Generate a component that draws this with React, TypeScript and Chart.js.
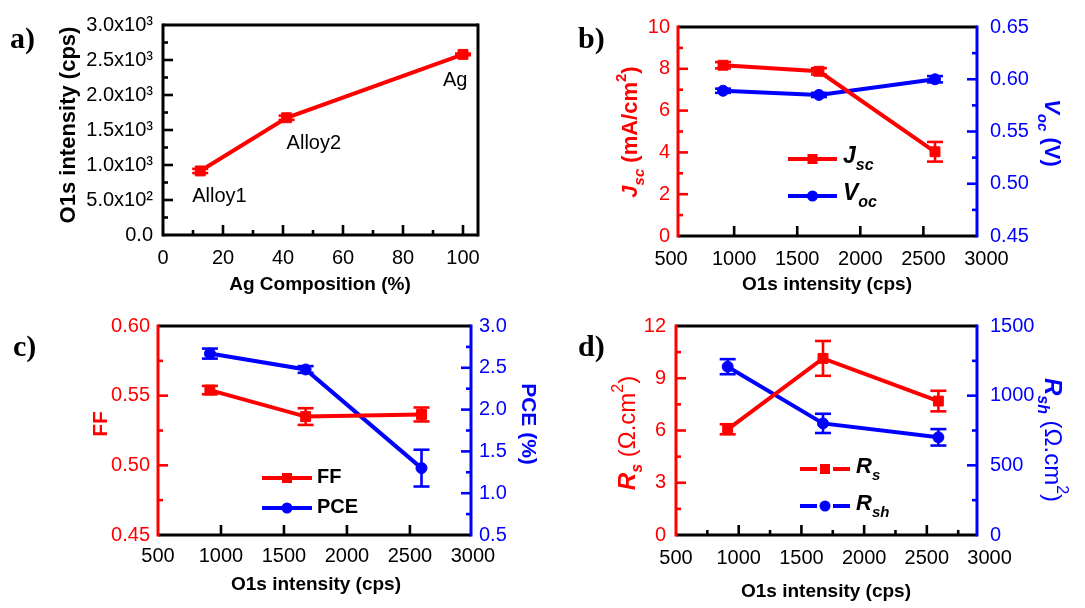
import React, { useEffect, useRef } from "react";
import { Chart, registerables } from "chart.js";

Chart.register(...registerables);

const RED = "#ff0000";
const BLUE = "#0000ff";
const BLACK = "#000000";
const SANS = "'Liberation Sans', Arial, Helvetica, sans-serif";
const SERIF = "'Liberation Serif', 'Times New Roman', serif";

// ---------------- data ----------------
// panel a
const agComposition = [12.4, 41.2, 100];
const o1sByComposition = [915, 1675, 2580];
const o1sByCompositionErr = [30, 30, 12];
const sampleNames = ["Alloy1", "Alloy2", "Ag"];

// panels b-d (x = O1s intensity)
const o1sIntensity = [912, 1672, 2592];
const jsc = [8.17, 7.88, 4.03];
const jscErr = [0.15, 0.15, 0.47];
const voc = [0.589, 0.585, 0.6];
const vocErr = [0.002, 0.002, 0.003];
const ff = [0.554, 0.535, 0.5365];
const ffErr = [0.003, 0.006, 0.005];
const pce = [2.67, 2.48, 1.3];
const pceErr = [0.06, 0.04, 0.22];
const rs = [6.07, 10.14, 7.69];
const rsErr = [0.29, 1.0, 0.59];
const rsh = [1208, 801, 701];
const rshErr = [54, 69, 59];

// tick values
const compTicks = [0, 20, 40, 60, 80, 100];
const o1sAxisTicks = [0, 500, 1000, 1500, 2000, 2500, 3000];
const o1sTicks = [500, 1000, 1500, 2000, 2500, 3000];
const jscTicks = [0, 2, 4, 6, 8, 10];
const vocTicks = [0.45, 0.5, 0.55, 0.6, 0.65];
const ffTicks = [0.45, 0.5, 0.55, 0.6];
const pceTicks = [0.5, 1, 1.5, 2, 2.5, 3];
const rsTicks = [0, 3, 6, 9, 12];
const rshTicks = [0, 500, 1000, 1500];

// ---------------- types & helpers ----------------
type Run = { t: string; it?: boolean; sub?: boolean; sup?: boolean; bold?: boolean };
type TextItem = {
  runs: Run[];
  x: number;
  y: number;
  size: number;
  bold?: boolean;
  color: string;
  rot?: number;
  align?: "left" | "center";
  family?: string;
  baseline?: CanvasTextBaseline;
};
type AxisSpec = {
  id: string;
  side: "bottom" | "left" | "right";
  min: number;
  max: number;
  ticks: number[];
  fmt: (v: number) => string;
  color: string;
  minor: boolean;
  labelPad: number;
};
type SeriesSpec = {
  xs: number[];
  ys: number[];
  errs: number[];
  color: string;
  marker: "rect" | "circle";
  axis: string;
};
type LegendSpec = {
  x1: number;
  x2: number;
  y: number;
  color: string;
  marker: "rect" | "circle";
  gap: boolean;
  text: TextItem;
};
type AnnotSpec = { runs: Run[]; series: number; index: number; dx: number; dy: number };
type PanelSpec = {
  ox: number;
  oy: number;
  w: number;
  h: number;
  area: { l: number; r: number; t: number; b: number };
  frame: { top: string; bottom: string; left: string; right: string };
  axes: AxisSpec[];
  series: SeriesSpec[];
  texts: TextItem[];
  legend: LegendSpec[];
  annots: AnnotSpec[];
};

const SUP: Record<number, string> = { 2: "\u00b2", 3: "\u00b3" };
const sciFmt = (v: number) => {
  if (v === 0) return "0.0";
  const e = Math.floor(Math.log10(v) + 1e-9);
  return `${(v / Math.pow(10, e)).toFixed(1)}x10${SUP[e] || e}`;
};
const intFmt = (v: number) => String(Math.round(v * 1000) / 1000);

const TICK_SIZE = 20;

function runFont(r: Run, it: TextItem) {
  const small = r.sub || r.sup;
  const sz = small ? Math.round(it.size * 0.68) : it.size;
  const b = r.bold !== undefined ? r.bold : it.bold;
  return `${r.it ? "italic " : ""}${b ? "bold " : ""}${sz}px ${it.family || SANS}`;
}

function drawRich(ctx: CanvasRenderingContext2D, item: TextItem, ox: number, oy: number) {
  ctx.save();
  ctx.translate(item.x - ox, item.y - oy);
  if (item.rot) ctx.rotate(item.rot);
  ctx.fillStyle = item.color;
  ctx.textBaseline = item.baseline || "middle";
  ctx.textAlign = "left";
  const widths = item.runs.map((r) => {
    ctx.font = runFont(r, item);
    return ctx.measureText(r.t).width;
  });
  const total = widths.reduce((a, b) => a + b, 0);
  let x = item.align === "left" ? 0 : -total / 2;
  item.runs.forEach((r, i) => {
    ctx.font = runFont(r, item);
    const dy = r.sub ? item.size * 0.38 : r.sup ? -item.size * 0.4 : 0;
    ctx.fillText(r.t, x, dy);
    x += widths[i];
  });
  ctx.restore();
}

function drawMarker(ctx: CanvasRenderingContext2D, kind: "rect" | "circle", x: number, y: number, color: string) {
  ctx.fillStyle = color;
  if (kind === "rect") {
    ctx.fillRect(x - 5, y - 5, 10, 10);
  } else {
    ctx.beginPath();
    ctx.arc(x, y, 5.5, 0, Math.PI * 2);
    ctx.fill();
  }
}

function seg(ctx: CanvasRenderingContext2D, x1: number, y1: number, x2: number, y2: number) {
  ctx.beginPath();
  ctx.moveTo(x1, y1);
  ctx.lineTo(x2, y2);
  ctx.stroke();
}

function makePlugin(spec: PanelSpec) {
  return {
    id: "panelDecor",
    beforeDatasetsDraw(chart: any) {
      const ctx: CanvasRenderingContext2D = chart.ctx;
      const a = chart.chartArea;
      ctx.save();
      ctx.lineCap = "butt";
      // tick marks (inward)
      for (const ax of spec.axes) {
        const sc = chart.scales[ax.id];
        const lo = Math.min(sc.min, sc.max);
        const hi = Math.max(sc.min, sc.max);
        const eps = (hi - lo) * 1e-3;
        const inside = (v: number) => v > lo + eps && v < hi - eps;
        const marks: { v: number; len: number }[] = [];
        ax.ticks.forEach((v, i) => {
          if (inside(v)) marks.push({ v, len: 10 });
          if (ax.minor && i < ax.ticks.length - 1) {
            const m = (v + ax.ticks[i + 1]) / 2;
            if (inside(m)) marks.push({ v: m, len: 5 });
          }
        });
        ctx.strokeStyle = ax.color;
        ctx.lineWidth = 2.6;
        for (const mk of marks) {
          const p = sc.getPixelForValue(mk.v);
          if (ax.side === "bottom") seg(ctx, p, a.bottom, p, a.bottom - mk.len);
          else if (ax.side === "left") seg(ctx, a.left, p, a.left + mk.len, p);
          else seg(ctx, a.right, p, a.right - mk.len, p);
        }
      }
      // frame
      ctx.lineWidth = 3;
      ctx.strokeStyle = spec.frame.top;
      seg(ctx, a.left, a.top, a.right, a.top);
      ctx.strokeStyle = spec.frame.bottom;
      seg(ctx, a.left, a.bottom, a.right, a.bottom);
      ctx.strokeStyle = spec.frame.left;
      seg(ctx, a.left, a.top - 1.5, a.left, a.bottom + 1.5);
      ctx.strokeStyle = spec.frame.right;
      seg(ctx, a.right, a.top - 1.5, a.right, a.bottom + 1.5);
      ctx.restore();
    },
    afterDatasetsDraw(chart: any) {
      const ctx: CanvasRenderingContext2D = chart.ctx;
      ctx.save();
      // error bars
      chart.data.datasets.forEach((ds: any, di: number) => {
        const errs: number[] = ds.errors;
        if (!errs) return;
        const meta = chart.getDatasetMeta(di);
        const ys = chart.scales[ds.yAxisID];
        ctx.strokeStyle = ds.borderColor;
        ctx.lineWidth = 2.6;
        meta.data.forEach((pt: any, i: number) => {
          const v = ds.data[i].y;
          const e = errs[i];
          const yT = ys.getPixelForValue(v + e);
          const yB = ys.getPixelForValue(v - e);
          seg(ctx, pt.x, yT, pt.x, yB);
          seg(ctx, pt.x - 8, yT, pt.x + 8, yT);
          seg(ctx, pt.x - 8, yB, pt.x + 8, yB);
        });
      });
      // legend samples
      for (const lg of spec.legend) {
        const x1 = lg.x1 - spec.ox;
        const x2 = lg.x2 - spec.ox;
        const y = lg.y - spec.oy;
        const cx = (x1 + x2) / 2;
        ctx.strokeStyle = lg.color;
        ctx.lineWidth = 4;
        if (lg.gap) {
          seg(ctx, x1, y, cx - 8, y);
          seg(ctx, cx + 8, y, x2, y);
        } else {
          seg(ctx, x1, y, x2, y);
        }
        drawMarker(ctx, lg.marker, cx, y, lg.color);
        drawRich(ctx, lg.text, spec.ox, spec.oy);
      }
      // point annotations
      for (const an of spec.annots) {
        const pt = chart.getDatasetMeta(an.series).data[an.index];
        drawRich(
          ctx,
          {
            runs: an.runs,
            x: pt.x + an.dx,
            y: pt.y + an.dy,
            size: 20,
            color: BLACK,
            align: "left",
            baseline: "alphabetic",
          },
          0,
          0
        );
      }
      // titles & labels
      for (const t of spec.texts) drawRich(ctx, t, spec.ox, spec.oy);
      ctx.restore();
    },
  };
}

const LEFT_W = 95;
const BOTTOM_H = 50;

function buildConfig(spec: PanelSpec): any {
  const scales: any = {};
  const hasRight = spec.axes.some((a) => a.side === "right");
  const rightW = spec.ox + spec.w - spec.area.r - 4;
  for (const ax of spec.axes) {
    const size = ax.side === "bottom" ? BOTTOM_H : ax.side === "left" ? LEFT_W : rightW;
    scales[ax.id] = {
      type: "linear",
      position: ax.side,
      min: ax.min,
      max: ax.max,
      grid: { display: false, drawTicks: false },
      border: { display: false },
      afterFit: (s: any) => {
        if (ax.side === "bottom") s.height = size;
        else s.width = size;
      },
      afterBuildTicks: (s: any) => {
        s.ticks = ax.ticks.map((v) => ({ value: v }));
      },
      ticks: {
        color: ax.color,
        font: { family: SANS, size: TICK_SIZE },
        padding: ax.labelPad,
        autoSkip: false,
        maxRotation: 0,
        minRotation: 0,
        callback: (v: any) => ax.fmt(Number(v)),
      },
    };
  }
  return {
    type: "line",
    data: {
      datasets: spec.series.map((s) => ({
        data: s.xs.map((x, i) => ({ x, y: s.ys[i] })),
        errors: s.errs,
        xAxisID: "x",
        yAxisID: s.axis,
        borderColor: s.color,
        backgroundColor: s.color,
        borderWidth: 4,
        pointStyle: s.marker,
        pointRadius: s.marker === "rect" ? 7 : 5.5,
        pointBorderWidth: 1,
        tension: 0,
        clip: false,
      })),
    },
    options: {
      responsive: false,
      animation: false,
      events: [],
      layout: {
        padding: {
          left: spec.area.l - spec.ox - LEFT_W,
          right: hasRight ? 4 : spec.ox + spec.w - spec.area.r,
          top: spec.area.t - spec.oy,
          bottom: spec.oy + spec.h - spec.area.b - BOTTOM_H,
        },
      },
      plugins: { legend: { display: false }, tooltip: { enabled: false } },
      scales,
    },
    plugins: [makePlugin(spec)],
  };
}

// ---------------- panel specs ----------------
const panelA: PanelSpec = {
  ox: 0,
  oy: 0,
  w: 540,
  h: 300,
  area: { l: 163, r: 478, t: 25, b: 235 },
  frame: { top: BLACK, bottom: BLACK, left: BLACK, right: BLACK },
  axes: [
    { id: "x", side: "bottom", min: 0, max: 105, ticks: compTicks, fmt: intFmt, color: BLACK, minor: true, labelPad: 11 },
    { id: "y", side: "left", min: 0, max: 3000, ticks: o1sAxisTicks, fmt: sciFmt, color: BLACK, minor: true, labelPad: 10 },
  ],
  series: [{ xs: agComposition, ys: o1sByComposition, errs: o1sByCompositionErr, color: RED, marker: "rect", axis: "y" }],
  texts: [
    { runs: [{ t: "a)" }], x: 10, y: 48, size: 30, bold: true, color: BLACK, family: SERIF, align: "left", baseline: "alphabetic" },
    { runs: [{ t: "O1s intensity (cps)" }], x: 69, y: 125, size: 22, bold: true, color: BLACK, rot: -Math.PI / 2 },
    { runs: [{ t: "Ag Composition (%)" }], x: 320, y: 285, size: 19, bold: true, color: BLACK },
  ],
  legend: [],
  annots: [
    { runs: [{ t: sampleNames[0] }], series: 0, index: 0, dx: -8, dy: 31 },
    { runs: [{ t: sampleNames[1] }], series: 0, index: 1, dx: 0, dy: 31 },
    { runs: [{ t: sampleNames[2] }], series: 0, index: 2, dx: -20, dy: 32 },
  ],
};

const panelB: PanelSpec = {
  ox: 540,
  oy: 0,
  w: 545,
  h: 300,
  area: { l: 678, r: 977, t: 27, b: 236 },
  frame: { top: BLACK, bottom: BLACK, left: RED, right: BLUE },
  axes: [
    { id: "x", side: "bottom", min: 555, max: 2925, ticks: o1sTicks, fmt: intFmt, color: BLACK, minor: false, labelPad: 11 },
    { id: "y", side: "left", min: 0, max: 10, ticks: jscTicks, fmt: intFmt, color: RED, minor: true, labelPad: 8 },
    { id: "y1", side: "right", min: 0.45, max: 0.65, ticks: vocTicks, fmt: (v) => v.toFixed(2), color: BLUE, minor: true, labelPad: 13 },
  ],
  series: [
    { xs: o1sIntensity, ys: jsc, errs: jscErr, color: RED, marker: "rect", axis: "y" },
    { xs: o1sIntensity, ys: voc, errs: vocErr, color: BLUE, marker: "circle", axis: "y1" },
  ],
  texts: [
    { runs: [{ t: "b)" }], x: 578, y: 48, size: 30, bold: true, color: BLACK, family: SERIF, align: "left", baseline: "alphabetic" },
    {
      runs: [{ t: "J", it: true }, { t: "sc", it: true, sub: true }, { t: " (mA/cm" }, { t: "2", sup: true }, { t: ")" }],
      x: 631,
      y: 132,
      size: 22,
      bold: true,
      color: RED,
      rot: -Math.PI / 2,
    },
    {
      runs: [{ t: "V", it: true }, { t: "oc", it: true, sub: true }, { t: " (V)" }],
      x: 1051,
      y: 133,
      size: 22,
      bold: true,
      color: BLUE,
      rot: Math.PI / 2,
    },
    { runs: [{ t: "O1s intensity (cps)" }], x: 827, y: 285, size: 19, bold: true, color: BLACK },
  ],
  legend: [
    {
      x1: 788, x2: 837, y: 159, color: RED, marker: "rect", gap: false,
      text: { runs: [{ t: "J", it: true }, { t: "sc", it: true, sub: true }], x: 843, y: 157, size: 23, bold: true, color: BLACK, align: "left" },
    },
    {
      x1: 788, x2: 837, y: 196, color: BLUE, marker: "circle", gap: false,
      text: { runs: [{ t: "V", it: true }, { t: "oc", it: true, sub: true }], x: 843, y: 194, size: 23, bold: true, color: BLACK, align: "left" },
    },
  ],
  annots: [],
};

const panelC: PanelSpec = {
  ox: 0,
  oy: 300,
  w: 540,
  h: 308,
  area: { l: 158, r: 471, t: 326, b: 535 },
  frame: { top: BLACK, bottom: BLACK, left: RED, right: BLUE },
  axes: [
    { id: "x", side: "bottom", min: 500, max: 2985, ticks: o1sTicks, fmt: intFmt, color: BLACK, minor: false, labelPad: 9 },
    { id: "y", side: "left", min: 0.45, max: 0.6, ticks: ffTicks, fmt: (v) => v.toFixed(2), color: RED, minor: true, labelPad: 8 },
    { id: "y1", side: "right", min: 0.5, max: 3.0, ticks: pceTicks, fmt: (v) => v.toFixed(1), color: BLUE, minor: true, labelPad: 8 },
  ],
  series: [
    { xs: o1sIntensity, ys: ff, errs: ffErr, color: RED, marker: "rect", axis: "y" },
    { xs: o1sIntensity, ys: pce, errs: pceErr, color: BLUE, marker: "circle", axis: "y1" },
  ],
  texts: [
    { runs: [{ t: "c)" }], x: 13, y: 356, size: 30, bold: true, color: BLACK, family: SERIF, align: "left", baseline: "alphabetic" },
    { runs: [{ t: "FF" }], x: 101, y: 424, size: 21, bold: true, color: RED, rot: -Math.PI / 2 },
    { runs: [{ t: "PCE (%)" }], x: 528, y: 424, size: 21, bold: true, color: BLUE, rot: Math.PI / 2 },
    { runs: [{ t: "O1s intensity (cps)" }], x: 316, y: 585, size: 19, bold: true, color: BLACK },
  ],
  legend: [
    {
      x1: 262, x2: 312, y: 478, color: RED, marker: "rect", gap: false,
      text: { runs: [{ t: "FF" }], x: 317, y: 477, size: 20, bold: true, color: BLACK, align: "left" },
    },
    {
      x1: 262, x2: 312, y: 508, color: BLUE, marker: "circle", gap: false,
      text: { runs: [{ t: "PCE" }], x: 317, y: 507, size: 20, bold: true, color: BLACK, align: "left" },
    },
  ],
  annots: [],
};

const panelD: PanelSpec = {
  ox: 540,
  oy: 300,
  w: 545,
  h: 308,
  area: { l: 676, r: 977, t: 326, b: 535 },
  frame: { top: BLACK, bottom: BLACK, left: RED, right: BLUE },
  axes: [
    { id: "x", side: "bottom", min: 500, max: 2900, ticks: o1sTicks, fmt: intFmt, color: BLACK, minor: true, labelPad: 11 },
    { id: "y", side: "left", min: 0, max: 12, ticks: rsTicks, fmt: intFmt, color: RED, minor: true, labelPad: 10 },
    { id: "y1", side: "right", min: 0, max: 1500, ticks: rshTicks, fmt: intFmt, color: BLUE, minor: true, labelPad: 13 },
  ],
  series: [
    { xs: o1sIntensity, ys: rs, errs: rsErr, color: RED, marker: "rect", axis: "y" },
    { xs: o1sIntensity, ys: rsh, errs: rshErr, color: BLUE, marker: "circle", axis: "y1" },
  ],
  texts: [
    { runs: [{ t: "d)" }], x: 578, y: 356, size: 30, bold: true, color: BLACK, family: SERIF, align: "left", baseline: "alphabetic" },
    {
      runs: [
        { t: "R", it: true, bold: true },
        { t: "s", it: true, sub: true, bold: true },
        { t: " (\u03a9.cm" },
        { t: "2", sup: true },
        { t: ")" },
      ],
      x: 628,
      y: 433,
      size: 24,
      bold: false,
      color: RED,
      rot: -Math.PI / 2,
    },
    {
      runs: [
        { t: "R", it: true, bold: true },
        { t: "sh", it: true, sub: true, bold: true },
        { t: " (\u03a9.cm" },
        { t: "2", sup: true },
        { t: ")" },
      ],
      x: 1052,
      y: 440,
      size: 24,
      bold: false,
      color: BLUE,
      rot: Math.PI / 2,
    },
    { runs: [{ t: "O1s intensity (cps)" }], x: 826, y: 592, size: 19, bold: true, color: BLACK },
  ],
  legend: [
    {
      x1: 800, x2: 850, y: 469, color: RED, marker: "rect", gap: true,
      text: { runs: [{ t: "R", it: true }, { t: "s", it: true, sub: true }], x: 856, y: 467, size: 22, bold: true, color: BLACK, align: "left" },
    },
    {
      x1: 800, x2: 850, y: 506, color: BLUE, marker: "circle", gap: true,
      text: { runs: [{ t: "R", it: true }, { t: "sh", it: true, sub: true }], x: 856, y: 504, size: 22, bold: true, color: BLACK, align: "left" },
    },
  ],
  annots: [],
};

function Panel({ spec }: { spec: PanelSpec }) {
  const ref = useRef<HTMLCanvasElement>(null);
  useEffect(() => {
    const chart = new Chart(ref.current as HTMLCanvasElement, buildConfig(spec));
    return () => chart.destroy();
  }, [spec]);
  return (
    <canvas
      ref={ref}
      width={spec.w}
      height={spec.h}
      style={{ position: "absolute", left: spec.ox, top: spec.oy, width: spec.w, height: spec.h }}
    />
  );
}

export default function App() {
  return (
    <div style={{ position: "absolute", left: 0, top: 0, width: 1085, height: 608, background: "#ffffff", overflow: "hidden" }}>
      <Panel spec={panelA} />
      <Panel spec={panelB} />
      <Panel spec={panelC} />
      <Panel spec={panelD} />
    </div>
  );
}
